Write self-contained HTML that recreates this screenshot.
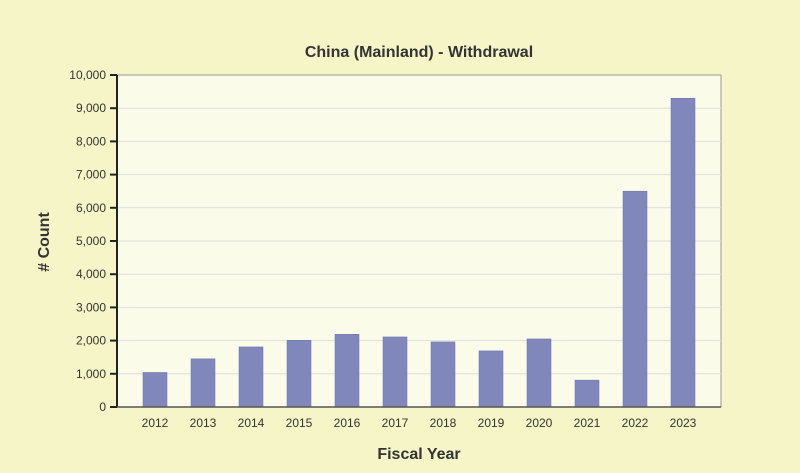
<!DOCTYPE html>
<html><head><meta charset="utf-8"><style>
html,body{margin:0;padding:0;background:#f5f5c8;}
svg{display:block;font-family:"Liberation Sans",Arial,sans-serif;}
</style></head><body>
<svg id="chart" width="800" height="473">
<rect width="800" height="473" fill="#f5f5c8"/>
<text x="419" y="57" text-anchor="middle" font-size="16" font-weight="bold" fill="#333">China (Mainland) - Withdrawal</text>
<text x="419" y="459" text-anchor="middle" font-size="16" font-weight="bold" fill="#333">Fiscal Year</text>
<text transform="translate(49,242) rotate(-90)" text-anchor="middle" font-size="16" font-weight="bold" fill="#333"># Count</text>
<rect x="117" y="75" width="604" height="332" fill="#fbfbe9" stroke="#999"/>
<g id="grid"></g><g id="bars"></g><g id="axes"></g>
</svg>
<script>
const categories=["2012","2013","2014","2015","2016","2017","2018","2019","2020","2021","2022","2023"];
const counts=[1040,1450,1810,2010,2190,2110,1960,1690,2050,810,6500,9300];
const yTicks=[0,1000,2000,3000,4000,5000,6000,7000,8000,9000,10000];
const yMax=10000;
const L=117,R=721,T=75,B=407,pad=14;
const band=(R-L-2*pad)/categories.length;
const x=i=>L+pad+band*i+band/2;
const y=v=>B-(v/yMax)*(B-T);
const NS="http://www.w3.org/2000/svg";
function mk(tag,attrs,parent){const e=document.createElementNS(NS,tag);for(const k in attrs)e.setAttribute(k,attrs[k]);document.getElementById(parent).appendChild(e);return e;}
yTicks.forEach(t=>{
  if(t>0&&t<yMax){const g=mk("line",{x1:L,x2:R,y1:y(t),y2:y(t),stroke:"#ddd"},"grid");
  
  }
  const tk=mk("line",{x1:L-7,x2:L,y1:y(t),y2:y(t),stroke:"#222","stroke-width":2},"axes");
  
  
  const lb=mk("text",{x:L-11,y:y(t)+4,"text-anchor":"end","font-size":12,fill:"#333"},"axes");
  lb.textContent=t.toLocaleString("en-US");
  
  
});
const bw=24;
counts.forEach((v,i)=>{
  const r=mk("rect",{x:x(i)-bw/2,y:y(v),width:bw,height:B-y(v),fill:"#7f87bb",stroke:"#6a72a8","stroke-width":0.5},"bars");
  
  
  const lb=mk("text",{x:x(i),y:B+20,"text-anchor":"middle","font-size":12,fill:"#333"},"axes");
  lb.textContent=categories[i];
  
  
});
const ax=mk("line",{x1:L,x2:L,y1:T,y2:B,stroke:"#222","stroke-width":2},"axes");


const bx=mk("line",{x1:L,x2:R,y1:B,y2:B,stroke:"#555","stroke-width":1.5},"axes");


</script>
</body></html>
